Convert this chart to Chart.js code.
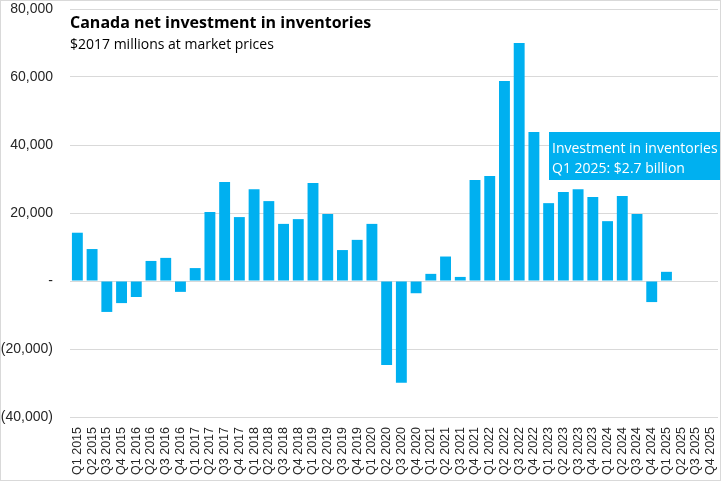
<!DOCTYPE html>
<html>
<head>
<meta charset="utf-8">
<script src="https://cdn.jsdelivr.net/npm/chart.js"></script>
<style>
  html, body { margin: 0; padding: 0; background: #fff; }
  #wrap { width: 721px; height: 481px; }
</style>
</head>
<body>
<div id="wrap"><canvas id="inventoryChart" width="721" height="481"></canvas></div>
<script>
const quarters = [
  'Q1 2015','Q2 2015','Q3 2015','Q4 2015',
  'Q1 2016','Q2 2016','Q3 2016','Q4 2016',
  'Q1 2017','Q2 2017','Q3 2017','Q4 2017',
  'Q1 2018','Q2 2018','Q3 2018','Q4 2018',
  'Q1 2019','Q2 2019','Q3 2019','Q4 2019',
  'Q1 2020','Q2 2020','Q3 2020','Q4 2020',
  'Q1 2021','Q2 2021','Q3 2021','Q4 2021',
  'Q1 2022','Q2 2022','Q3 2022','Q4 2022',
  'Q1 2023','Q2 2023','Q3 2023','Q4 2023',
  'Q1 2024','Q2 2024','Q3 2024','Q4 2024',
  'Q1 2025','Q2 2025','Q3 2025','Q4 2025'
];

// $2017 millions
const inventories = [
  14200, 9400, -9100, -6500,
  -4700, 5900, 6800, -3200,
  3800, 20300, 29100, 18800,
  27000, 23500, 16800, 18200,
  28800, 19700, 9100, 12100,
  16800, -24700, -29900, -3600,
  2100, 7200, 1200, 29700,
  30900, 58800, 70000, 43800,
  22900, 26200, 27000, 24700,
  17600, 25000, 19700, -6200,
  2700, null, null, null
];

const yTicks = [-40000, -20000, 0, 20000, 40000, 60000, 80000];

const titleText = 'Canada net investment in inventories';
const subtitleText = '$2017 millions at market prices';
const noteLines = ['Investment in inventories', 'Q1 2025: $2.7 billion'];

const fmtTick = (v) => {
    if (v === 0) return '-';
    const s = Math.abs(v).toLocaleString('en-US');
    return v < 0 ? '(' + s + ')' : s;
};

// white background + thin frame round the whole picture
const framePlugin = {
    id: 'frame',
    beforeDraw(chart) {
        const { ctx, width, height } = chart;
        ctx.save();
        ctx.fillStyle = '#ffffff';
        ctx.fillRect(0, 0, width, height);
        ctx.strokeStyle = '#d9d9d9';
        ctx.lineWidth = 1;
        ctx.strokeRect(0.5, 0.5, width - 1, height - 1);
        ctx.restore();
    }
};

// title, subtitle and the blue note box
const textPlugin = {
    id: 'texts',
    afterDraw(chart) {
        const { ctx, chartArea } = chart;
        ctx.save();
        ctx.textBaseline = 'alphabetic';
        ctx.textAlign = 'left';
        ctx.fillStyle = '#000000';
        ctx.font = 'bold 16px "Open Sans", sans-serif';
        ctx.fillText(titleText, chartArea.left, 28);
        ctx.font = '14px "Open Sans", sans-serif';
        ctx.fillText(subtitleText, chartArea.left, 49);

        const boxX = 549, boxY = 132, boxW = 171, boxH = 48;
        ctx.fillStyle = '#00B0F0';
        ctx.fillRect(boxX, boxY, boxW, boxH);
        ctx.fillStyle = '#ffffff';
        ctx.font = '14px "Open Sans", sans-serif';
        ctx.fillText(noteLines[0], boxX + 3, 153);
        ctx.fillText(noteLines[1], boxX + 3, 173);
        ctx.restore();
    }
};

new Chart(document.getElementById('inventoryChart'), {
    type: 'bar',
    data: {
        labels: quarters,
        datasets: [{
            label: 'Net investment in inventories',
            data: inventories,
            backgroundColor: '#00B0F0',
            barPercentage: 0.74,
            categoryPercentage: 1.0
        }]
    },
    options: {
        responsive: false,
        animation: false,
        layout: { padding: { top: 9, right: 3, bottom: 0, left: 0 } },
        plugins: {
            legend: { display: false },
            tooltip: { enabled: false }
        },
        scales: {
            x: {
                grid: { display: false, drawTicks: false },
                border: { display: false },
                afterFit: (scale) => {
                    scale.height = 64;
                    scale.paddingLeft = 0;
                    scale.paddingRight = 0;
                },
                ticks: {
                    autoSkip: false,
                    minRotation: 90,
                    maxRotation: 90,
                    padding: 10,
                    color: '#262626',
                    font: { family: '"Liberation Sans", Arial, sans-serif', size: 12.5 }
                }
            },
            y: {
                min: -40000,
                max: 80000,
                afterBuildTicks: (scale) => { scale.ticks = yTicks.map(v => ({ value: v })); },
                afterFit: (scale) => {
                    scale.width = 70;
                    scale.paddingTop = 0;
                    scale.paddingBottom = 0;
                },
                grid: { color: '#d9d9d9', drawTicks: false, lineWidth: 1 },
                border: { display: false },
                ticks: {
                    padding: 17,
                    color: '#262626',
                    callback: fmtTick,
                    font: { family: '"Liberation Sans", Arial, sans-serif', size: 14 }
                }
            }
        }
    },
    plugins: [framePlugin, textPlugin]
});
</script>
</body>
</html>
